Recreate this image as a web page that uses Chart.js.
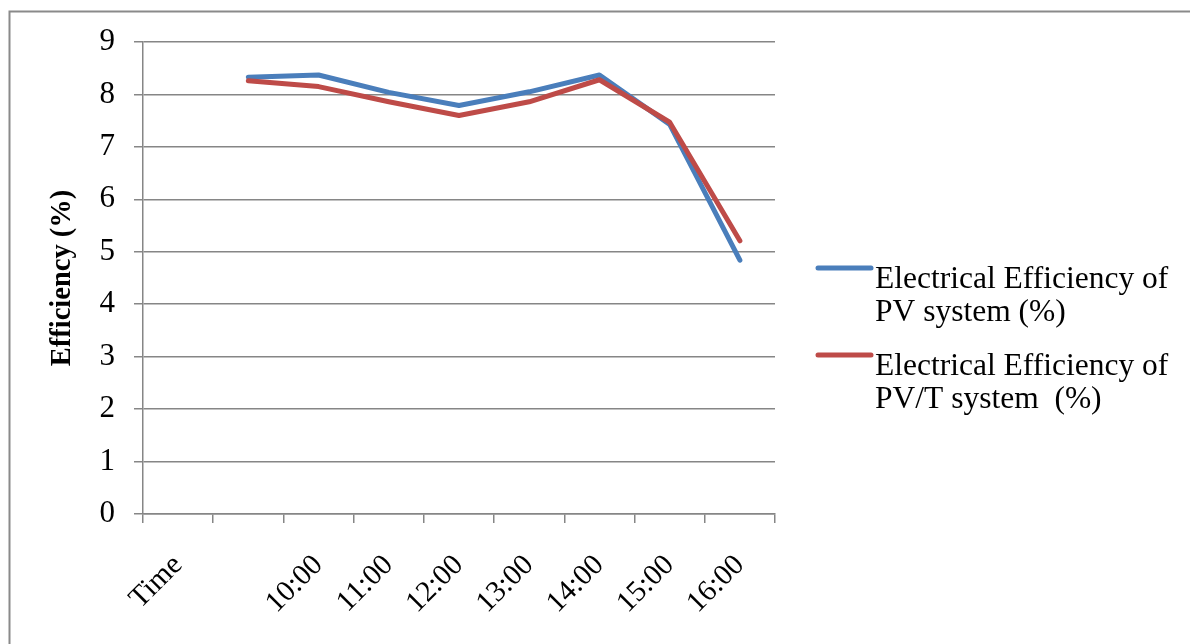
<!DOCTYPE html>
<html>
<head>
<meta charset="utf-8">
<script src="https://cdn.jsdelivr.net/npm/chart.js@4/dist/chart.umd.min.js"></script>
<style>
  html, body { margin: 0; padding: 0; background: #fff; overflow: hidden; }
  #wrap { position: relative; width: 1190px; height: 644px; }
</style>
</head>
<body>
<div id="wrap"><canvas id="c" width="1190" height="644"></canvas></div>
<script>
// Hourly electrical efficiency readings (%)
const categories = ['Time', '', '10:00', '11:00', '12:00', '13:00', '14:00', '15:00', '16:00'];
const pvEfficiency = [null, 8.33, 8.37, 8.04, 7.79, 8.05, 8.37, 7.43, 4.84];
const pvtEfficiency = [null, 8.26, 8.15, 7.86, 7.60, 7.86, 8.28, 7.47, 5.21];
const seriesNames = [
  ['Electrical Efficiency of', 'PV system (%)'],
  ['Electrical Efficiency of', 'PV/T system  (%)']
];
const seriesColors = ['#4a7ebb', '#be4b48'];
const yTitle = 'Efficiency (%)';
const yMin = 0, yMax = 9, yStep = 1;

const SERIF = "'Liberation Serif', 'Times New Roman', serif";
const AXIS_GREY = '#868686';

// Outer frame of the chart object
const framePlugin = {
  id: 'frame',
  beforeDraw(chart) {
    const ctx = chart.ctx;
    ctx.save();
    ctx.fillStyle = '#fff';
    ctx.fillRect(0, 0, chart.width, chart.height);
    ctx.strokeStyle = '#8a8a8a';
    ctx.lineWidth = 2;
    ctx.beginPath();
    ctx.moveTo(9.5, chart.height + 5);
    ctx.lineTo(9.5, 11.5);
    ctx.lineTo(chart.width + 5, 11.5);
    ctx.stroke();
    ctx.restore();
  }
};

// Legend on the right with wrapped series names
const sideLegend = {
  id: 'sideLegend',
  afterDraw(chart) {
    const ctx = chart.ctx;
    const area = chart.chartArea;
    const x0 = area.right + 43;
    chart.data.datasets.forEach((ds, i) => {
      const y = 268 + i * 87;
      ctx.save();
      ctx.strokeStyle = ds.borderColor;
      ctx.lineWidth = 5;
      ctx.lineCap = 'round';
      ctx.beginPath();
      ctx.moveTo(x0, y);
      ctx.lineTo(x0 + 53, y);
      ctx.stroke();
      ctx.fillStyle = '#000';
      ctx.font = '31.5px ' + SERIF;
      ctx.textAlign = 'left';
      ctx.textBaseline = 'alphabetic';
      seriesNames[i].forEach((line, k) => {
        ctx.fillText(line, x0 + 57, y + 19.5 + k * 33.5);
      });
      ctx.restore();
    });
  }
};

new Chart(document.getElementById('c'), {
  type: 'line',
  data: {
    labels: categories,
    datasets: [
      {
        label: seriesNames[0].join(' '),
        data: pvEfficiency,
        borderColor: seriesColors[0],
        backgroundColor: seriesColors[0],
        borderWidth: 5,
        pointRadius: 0,
        tension: 0,
        borderCapStyle: 'round',
        borderJoinStyle: 'round',
        order: 2
      },
      {
        label: seriesNames[1].join(' '),
        data: pvtEfficiency,
        borderColor: seriesColors[1],
        backgroundColor: seriesColors[1],
        borderWidth: 5,
        pointRadius: 0,
        tension: 0,
        borderCapStyle: 'round',
        borderJoinStyle: 'round',
        order: 1
      }
    ]
  },
  options: {
    responsive: false,
    animation: false,
    devicePixelRatio: 1,
    layout: { padding: { left: 0, top: 42, right: 415, bottom: 0 } },
    plugins: {
      legend: { display: false },
      tooltip: { enabled: false }
    },
    scales: {
      x: {
        type: 'category',
        offset: true,
        grid: {
          offset: true,
          drawOnChartArea: false,
          drawTicks: true,
          tickLength: 9,
          color: AXIS_GREY,
          lineWidth: 1.5
        },
        border: { display: true, color: AXIS_GREY, width: 1.5 },
        ticks: {
          autoSkip: false,
          minRotation: 45,
          maxRotation: 45,
          padding: 25,
          labelOffset: 0,
          color: '#000',
          font: { family: SERIF, size: 29.5 }
        },
        afterFit(scale) { scale.height = 130; }
      },
      y: {
        min: yMin,
        max: yMax,
        grid: {
          drawTicks: true,
          tickLength: 9,
          color: AXIS_GREY,
          lineWidth: 1.5
        },
        border: { display: true, color: AXIS_GREY, width: 1.5 },
        ticks: {
          stepSize: yStep,
          padding: 19,
          color: '#000',
          font: { family: SERIF, size: 31 }
        },
        title: {
          display: true,
          text: yTitle,
          color: '#000',
          padding: { top: 46, bottom: 0 },
          font: { family: SERIF, size: 28.5, weight: 'bold' }
        },
        afterFit(scale) { scale.width = 143; }
      }
    }
  },
  plugins: [framePlugin, sideLegend]
});
</script>
</body>
</html>
